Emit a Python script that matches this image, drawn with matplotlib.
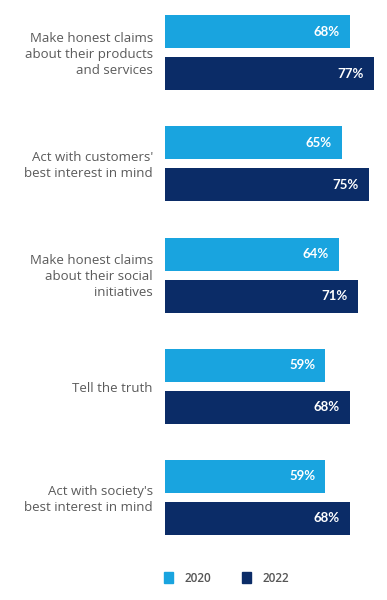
import matplotlib.pyplot as plt
from matplotlib.patches import Patch

categories = [
    "Make honest claims\nabout their products\nand services",
    "Act with customers'\nbest interest in mind",
    "Make honest claims\nabout their social\ninitiatives",
    "Tell the truth",
    "Act with society's\nbest interest in mind",
]
vals_2020 = [68, 65, 64, 59, 59]
vals_2022 = [77, 75, 71, 68, 68]
years = ["2020", "2022"]

c20 = "#19a4df"
c22 = "#0b2c67"

fig = plt.figure(figsize=(3.87, 6.0), dpi=100)
# axes runs from bar baseline (x=165px) to right edge, full height, pixel-like y units
ax = fig.add_axes([165 / 387, 0, 1 - 165 / 387, 1])
ax.set_xlim(0, (387 - 165) / 2.72)
ax.set_ylim(600, 0)
ax.axis("off")

pitch = 111.25
h = 33
for i, cat in enumerate(categories):
    y1 = 31.5 + pitch * i
    y2 = y1 + 42
    ax.barh(y1, vals_2020[i], height=h, color=c20)
    ax.barh(y2, vals_2022[i], height=h, color=c22)
    ax.text(vals_2020[i] - 3.8, y1, f"{vals_2020[i]}%", color="white",
            ha="right", va="center", fontsize=9.5, fontweight="bold", family="Lato")
    ax.text(vals_2022[i] - 3.8, y2, f"{vals_2022[i]}%", color="white",
            ha="right", va="center", fontsize=9.5, fontweight="bold", family="Lato")
    fig.text(153 / 387, 1 - (y1 + 23) / 600, cat, ha="right", va="center",
             fontsize=9.5, color="#5a5a5a", family="Open Sans", linespacing=1.3)

handles = [Patch(color=c20, label=years[0]), Patch(color=c22, label=years[1])]
fig.legend(handles=handles, loc="center left", bbox_to_anchor=(164 / 387, 1 - 578 / 600),
           ncol=2, frameon=False, borderpad=0, borderaxespad=0,
           handlelength=0.75, handleheight=1.0, columnspacing=2.6, handletextpad=1.0,
           prop={"family": "Open Sans", "size": 8.5, "weight": "semibold"}, labelcolor="#555555")

fig.savefig("out.png", dpi=100)
